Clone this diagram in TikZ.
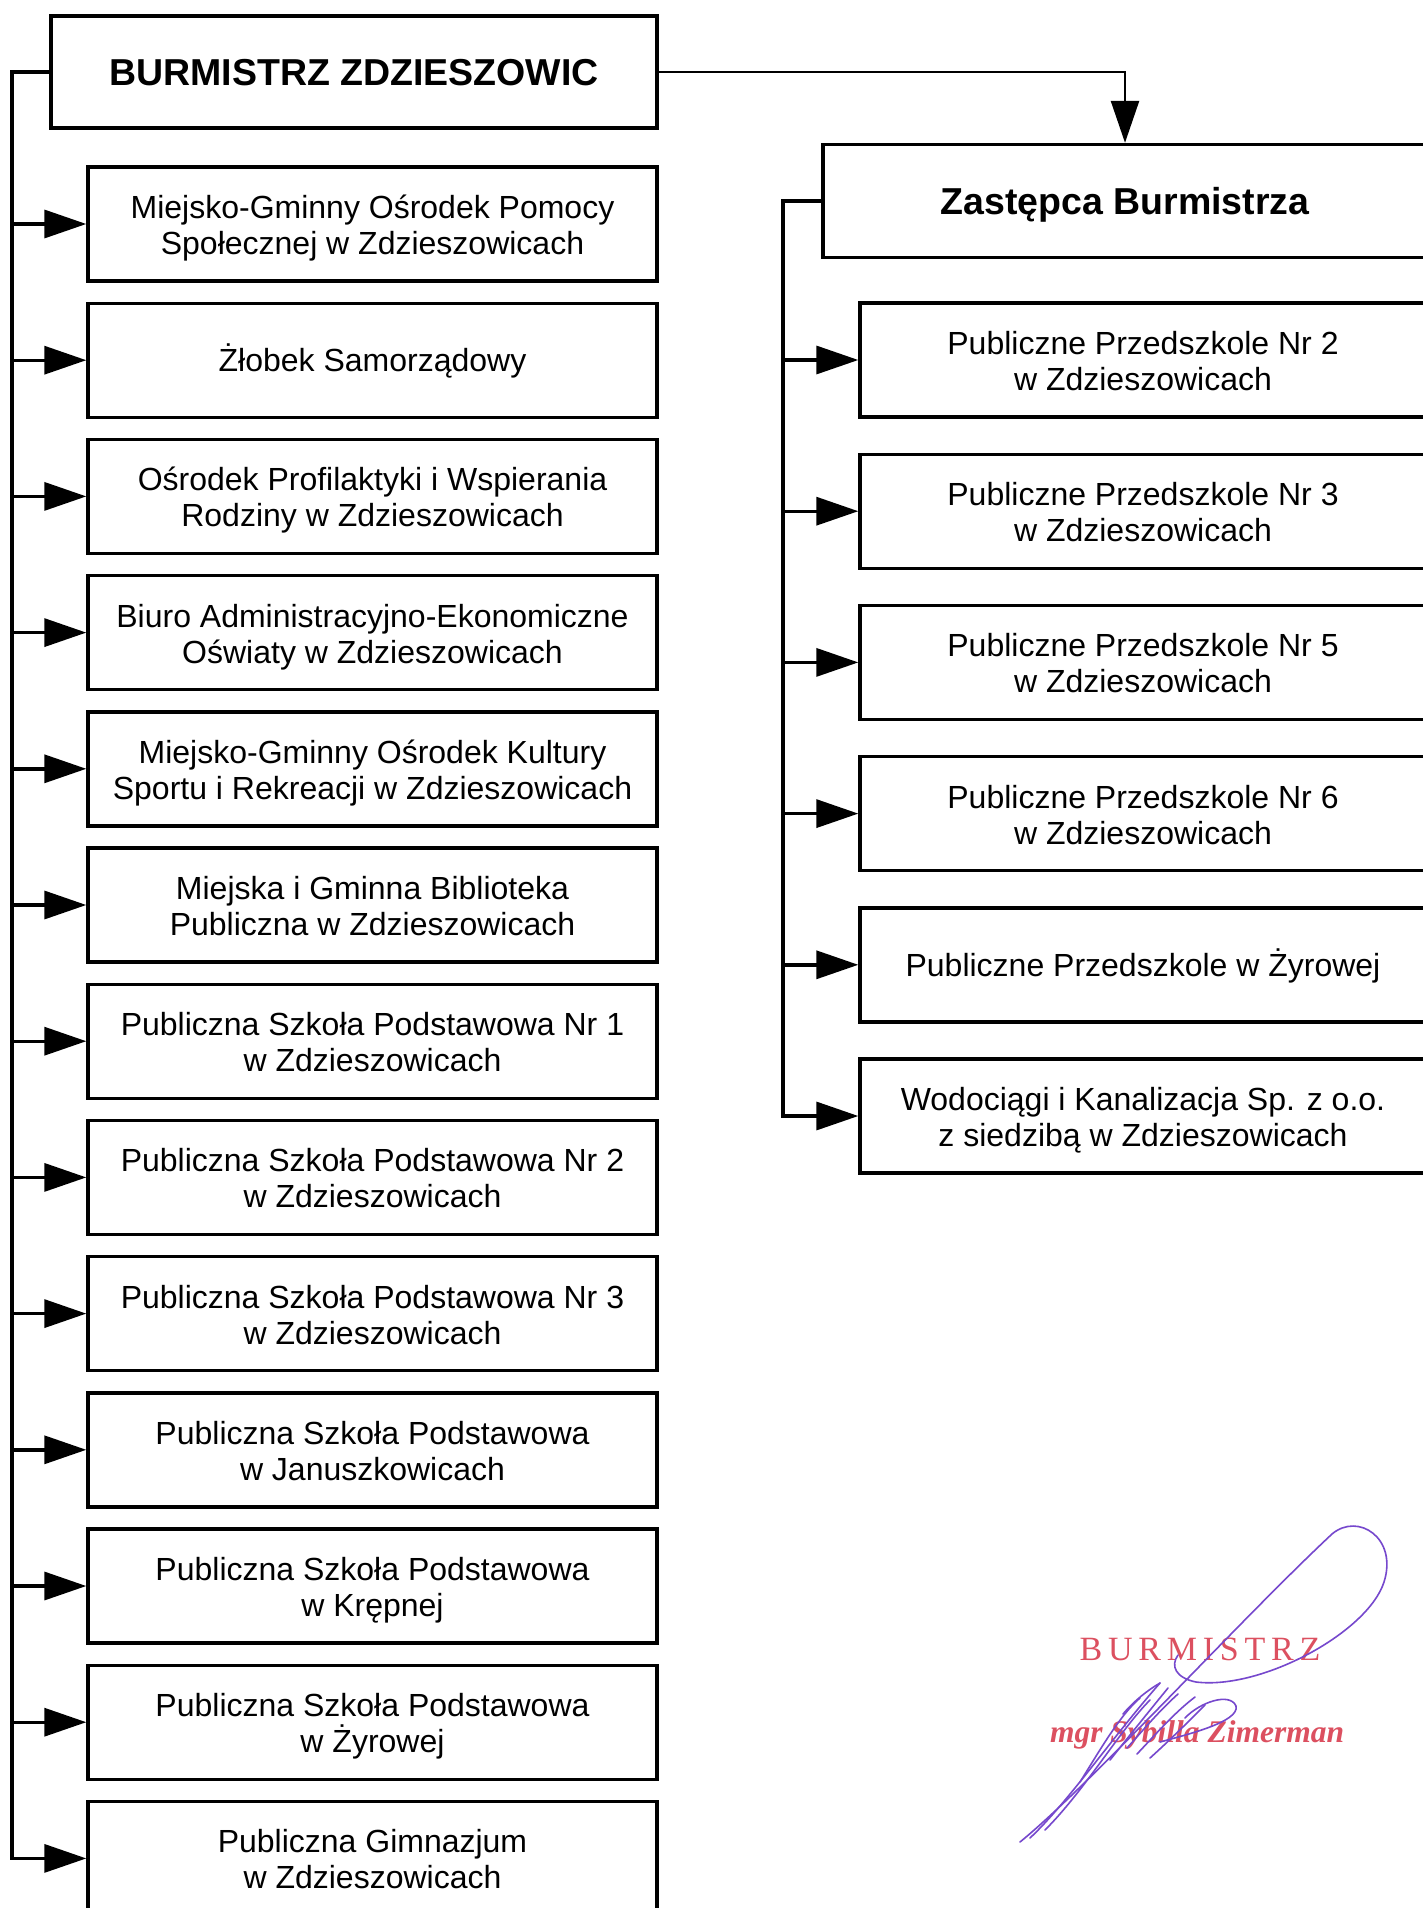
\documentclass[tikz,border=0pt]{standalone}
\usepackage{fontspec}
\setmainfont{Liberation Sans}
\newfontfamily\stampfont[LetterSpace=17]{Liberation Serif}
\newfontfamily\stampital{Liberation Serif}
\usetikzlibrary{arrows.meta}
\definecolor{stampred}{RGB}{220,80,96}
\definecolor{inkviolet}{RGB}{118,72,205}
\newcommand\tstr{\rule{0pt}{33pt}}
\newcommand\bstr{\rule[-7.4pt]{0pt}{0pt}}
\tikzset{
  unit/.style={draw=black, line width=3.4pt, rectangle, align=center, inner sep=0pt,
    font=\fontsize{32}{36}\selectfont,
    execute at begin node={\rule{0pt}{31pt}},
    execute at end node={\rule[-8.1pt]{0pt}{0pt}}},
  leftbox/.style={unit, minimum width=569pt, minimum height=114pt},
  rightbox/.style={unit, minimum width=566pt, minimum height=114pt},
  headbox/.style={unit, font=\bfseries\fontsize{37.5}{42}\selectfont,
    execute at begin node={\rule{0pt}{36pt}},
    execute at end node={\rule[-9.1pt]{0pt}{0pt}}},
  trunk/.style={line width=4pt, line cap=rect},
  branch/.style={line width=3.4pt, -{Triangle[length=42pt,width=28pt]}},
  topline/.style={line width=2.6pt, -{Triangle[length=42pt,width=28pt]}},
  sig/.style={inkviolet, line width=1.6pt, line cap=round}
}
\begin{document}
\begin{tikzpicture}[x=1pt,y=-1pt]
\clip (0,0) rectangle (1423,1908);
\fill[white] (0,0) rectangle (1423,1908);

% head boxes
\node[headbox, minimum width=606pt, minimum height=112pt] (B) at (354,72) {BURMISTRZ ZDZIESZOWIC};
\node[headbox, minimum width=604pt, minimum height=113pt] (Z) at (1125,201) {Zastępca Burmistrza};

% left column
\node[leftbox] (L1) at (372.5,224.0) {\tstr Miejsko-Gminny Ośrodek Pomocy\\Społecznej w Zdzieszowicach\bstr};
\node[leftbox] (L2) at (372.5,360.2) {Żłobek Samorządowy};
\node[leftbox] (L3) at (372.5,496.4) {\tstr Ośrodek Profilaktyki i Wspierania\\Rodziny w Zdzieszowicach\bstr};
\node[leftbox] (L4) at (372.5,632.6) {\tstr Biuro Administracyjno-Ekonomiczne\\Oświaty w Zdzieszowicach\bstr};
\node[leftbox] (L5) at (372.5,768.8) {\tstr Miejsko-Gminny Ośrodek Kultury\\Sportu i Rekreacji w Zdzieszowicach\bstr};
\node[leftbox] (L6) at (372.5,905.0) {\tstr Miejska i Gminna Biblioteka\\Publiczna w Zdzieszowicach\bstr};
\node[leftbox] (L7) at (372.5,1041.2) {\tstr Publiczna Szkoła Podstawowa Nr 1\\w Zdzieszowicach\bstr};
\node[leftbox] (L8) at (372.5,1177.4) {\tstr Publiczna Szkoła Podstawowa Nr 2\\w Zdzieszowicach\bstr};
\node[leftbox] (L9) at (372.5,1313.6) {\tstr Publiczna Szkoła Podstawowa Nr 3\\w Zdzieszowicach\bstr};
\node[leftbox] (L10) at (372.5,1449.8) {\tstr Publiczna Szkoła Podstawowa\\w Januszkowicach\bstr};
\node[leftbox] (L11) at (372.5,1586.0) {\tstr Publiczna Szkoła Podstawowa\\w Krępnej\bstr};
\node[leftbox] (L12) at (372.5,1722.2) {\tstr Publiczna Szkoła Podstawowa\\w Żyrowej\bstr};
\node[leftbox] (L13) at (372.5,1858.4) {\tstr Publiczna Gimnazjum\\w Zdzieszowicach\bstr};

% right column
\node[rightbox] (R1) at (1143,360.0) {\tstr Publiczne Przedszkole Nr 2\\w Zdzieszowicach\bstr};
\node[rightbox] (R2) at (1143,511.2) {\tstr Publiczne Przedszkole Nr 3\\w Zdzieszowicach\bstr};
\node[rightbox] (R3) at (1143,662.4) {\tstr Publiczne Przedszkole Nr 5\\w Zdzieszowicach\bstr};
\node[rightbox] (R4) at (1143,813.6) {\tstr Publiczne Przedszkole Nr 6\\w Zdzieszowicach\bstr};
\node[rightbox] (R5) at (1143,964.8) {Publiczne Przedszkole w Żyrowej};
\node[rightbox] (R6) at (1143,1116.0) {\tstr Wodociągi i Kanalizacja Sp. z o.o.\\z siedzibą w Zdzieszowicach\bstr};

% trunks
\coordinate (LT) at (12,72);
\coordinate (LB) at (12,1858.4);
\coordinate (RT) at (783,201);
\coordinate (RB) at (783,1116);
\coordinate (TK) at (1125,72);
\draw[trunk] (B.west) -- (LT) -- (LB);
\draw[trunk] (Z.west) -- (RT) -- (RB);
\draw[topline] (B.east) -- (TK) -- (Z.north);

% left branches
\foreach \n in {1,...,13}{
  \draw[branch] (LT |- L\n.west) -- (L\n.west);
}
% right branches
\foreach \n in {1,...,6}{
  \draw[branch] (RT |- R\n.west) -- (R\n.west);
}

% stamp
\node[stampred, inner sep=0pt, font=\stampfont\fontsize{34}{36}\selectfont] (S1) at (1200,1649) {BURMISTRZ};
\node[stampred, inner sep=0pt, font=\stampital\bfseries\itshape\fontsize{31.5}{34}\selectfont] (S2) at (1197,1735) {mgr Sybilla Zimerman};

% signature
\draw[sig] (1020,1842) .. controls (1090,1785) and (1240,1620) .. (1332,1534)
  .. controls (1358,1512) and (1398,1538) .. (1384,1582)
  .. controls (1368,1632) and (1262,1690) .. (1196,1682)
  .. controls (1176,1678) and (1170,1666) .. (1178,1655);
\draw[sig] (1030,1838) .. controls (1070,1800) and (1110,1740) .. (1160,1683);
\draw[sig] (1045,1830) .. controls (1085,1790) and (1120,1730) .. (1150,1700);
\draw[sig] (1080,1782) .. controls (1100,1750) and (1120,1715) .. (1140,1698);
\draw[sig] (1110,1760) .. controls (1130,1735) and (1150,1710) .. (1168,1688);
\draw[sig] (1127,1748) .. controls (1145,1728) and (1160,1710) .. (1178,1694);
\draw[sig] (1137,1754) .. controls (1155,1735) and (1175,1712) .. (1195,1697);
\draw[sig] (1150,1758) .. controls (1170,1740) and (1190,1720) .. (1205,1705);
\draw[sig] (1160,1742) .. controls (1185,1735) and (1240,1722) .. (1236,1706)
  .. controls (1230,1692) and (1200,1702) .. (1185,1718);
\draw[sig] (1123,1714) .. controls (1135,1700) and (1148,1690) .. (1160,1683);
\end{tikzpicture}
\end{document}
